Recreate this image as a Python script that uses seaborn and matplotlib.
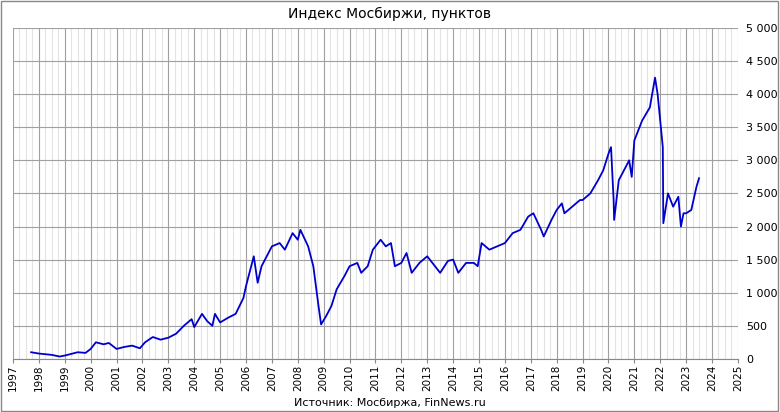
import numpy as np
import pandas as pd
import matplotlib
matplotlib.use('Agg')
import matplotlib.pyplot as plt
import seaborn as sns
from matplotlib.ticker import FuncFormatter, MultipleLocator

# Approximate readings of the MOEX index (decimal year, points)
years = [1997.7, 1998.0, 1998.5, 1998.8, 1999.0, 1999.5, 1999.8, 2000.0, 2000.2, 2000.5,
         2000.7, 2001.0, 2001.3, 2001.6, 2001.9, 2002.1, 2002.4, 2002.7, 2003.0, 2003.3,
         2003.6, 2003.9, 2004.0, 2004.3, 2004.5, 2004.7, 2004.8, 2005.0, 2005.3, 2005.6,
         2005.9, 2006.0, 2006.3, 2006.45, 2006.6, 2006.8, 2007.0, 2007.3, 2007.5, 2007.8,
         2008.0, 2008.1, 2008.4, 2008.6, 2008.8, 2008.9, 2009.1, 2009.3, 2009.5, 2009.8,
         2010.0, 2010.3, 2010.45, 2010.7, 2010.9, 2011.2, 2011.4, 2011.6, 2011.75, 2012.0,
         2012.2, 2012.4, 2012.7, 2013.0, 2013.3, 2013.5, 2013.8, 2014.0, 2014.2, 2014.5,
         2014.8, 2014.95, 2015.1, 2015.4, 2015.7, 2016.0, 2016.3, 2016.6, 2016.9, 2017.1,
         2017.4, 2017.5, 2017.8, 2018.0, 2018.2, 2018.3, 2018.6, 2018.9, 2019.0, 2019.3,
         2019.6, 2019.8, 2020.0, 2020.1, 2020.2, 2020.22, 2020.4, 2020.6, 2020.8, 2020.9,
         2021.0, 2021.3, 2021.6, 2021.8, 2021.9, 2022.0, 2022.1, 2022.12, 2022.3, 2022.5,
         2022.7, 2022.8, 2022.9, 2023.0, 2023.2, 2023.4, 2023.5]
values = [100, 80, 60, 35, 50, 100, 90, 150, 250, 220,
          240, 150, 180, 200, 160, 250, 330, 290, 320, 380,
          500, 600, 480, 680, 570, 500, 680, 550, 620, 680,
          920, 1100, 1550, 1150, 1400, 1550, 1700, 1750, 1650, 1900,
          1800, 1950, 1700, 1400, 800, 520, 650, 800, 1050, 1250,
          1400, 1450, 1300, 1400, 1650, 1800, 1700, 1750, 1400, 1450,
          1600, 1300, 1450, 1550, 1400, 1300, 1480, 1500, 1300, 1450,
          1450, 1400, 1750, 1650, 1700, 1750, 1900, 1950, 2150, 2200,
          1950, 1850, 2100, 2250, 2350, 2200, 2300, 2400, 2400, 2500,
          2700, 2850, 3100, 3200, 2400, 2100, 2700, 2850, 3000, 2750,
          3300, 3600, 3800, 4250, 4000, 3600, 3200, 2050, 2500, 2300,
          2450, 2000, 2200, 2200, 2250, 2600, 2730]

df = pd.DataFrame({'year': years, 'value': values})

fig = plt.figure(figsize=(7.8, 4.12), dpi=100)
ax = fig.add_axes([0.0167, 0.129, 0.9293, 0.803])
sns.lineplot(data=df, x='year', y='value', ax=ax, color='#0000cc', linewidth=1.3)

ax.set_xlim(1997, 2025)
ax.set_ylim(0, 5000)
ax.xaxis.set_major_locator(MultipleLocator(1))
ax.xaxis.set_minor_locator(MultipleLocator(0.25))
ax.yaxis.set_major_locator(MultipleLocator(500))
ax.yaxis.tick_right()
ax.yaxis.set_major_formatter(FuncFormatter(lambda v, p: f'{int(v):,}'.replace(',', ' ')))
ax.xaxis.set_major_formatter(FuncFormatter(lambda v, p: f'{int(round(v))}'))
ax.tick_params(axis='x', which='major', rotation=90, labelsize=7.5, length=3, pad=1, color='#888888')
ax.tick_params(axis='x', which='minor', length=0)
ax.tick_params(axis='y', labelsize=8, length=0, pad=6)
ax.grid(which='minor', axis='x', color='#e3e3e3', linewidth=0.8)
ax.grid(which='major', axis='x', color='#a0a0a0', linewidth=0.8)
ax.grid(which='major', axis='y', color='#a0a0a0', linewidth=0.8)
ax.set_axisbelow(True)
for side in ['top', 'right', 'left']:
    ax.spines[side].set_visible(False)
ax.spines['bottom'].set_color('#888888')
ax.set_xlabel('')
ax.set_ylabel('')

fig.text(0.5, 0.965, 'Индекс Мосбиржи, пунктов', ha='center', va='center', fontsize=10)
fig.text(0.5, 0.022, 'Источник: Мосбиржа, FinNews.ru', ha='center', va='center', fontsize=8)
fig.patches.append(plt.Rectangle((0.001, 0.002), 0.997, 0.995, transform=fig.transFigure,
                                 fill=False, edgecolor='#888888', linewidth=1))

fig.savefig('out.png', dpi=100)
